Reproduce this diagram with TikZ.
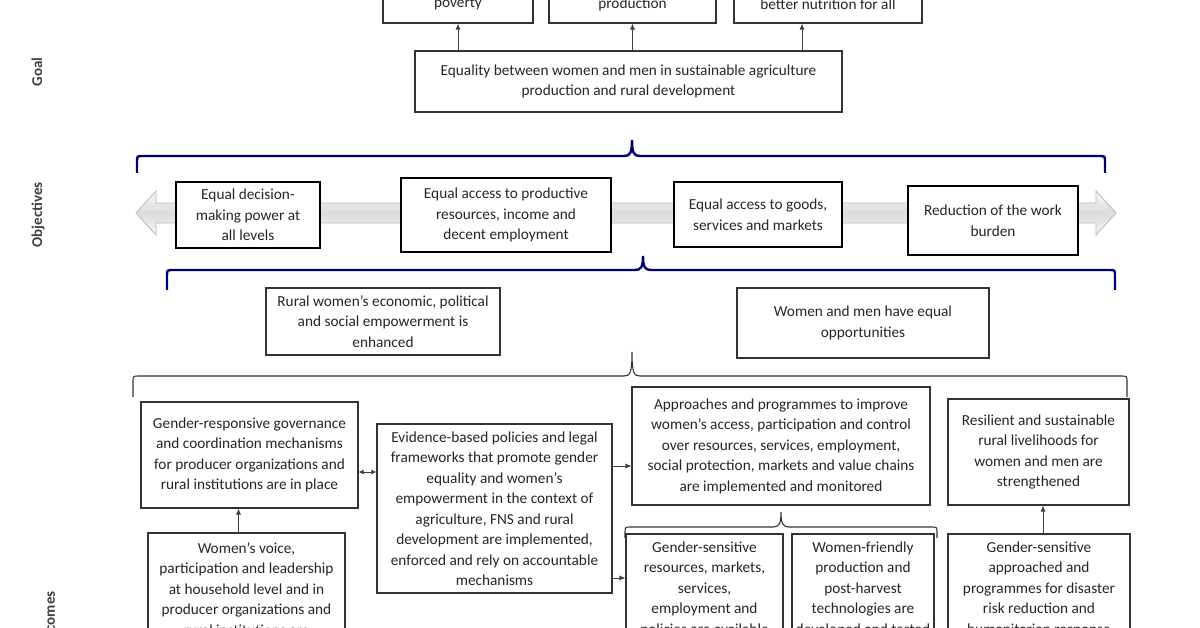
\documentclass[tikz,border=0pt]{standalone}
\usepackage{fontspec}
\setmainfont{Carlito}
\usetikzlibrary{arrows.meta}
\newcommand{\hbr}[7]{% #1 style, #2 x1, #3 x2, #4 xm, #5 yline, #6 yend, #7 ytip
\draw[#1] (#2,#6) -- (#2,{#5+6}) .. controls (#2,#5) .. ({#2+6},#5) -- ({#4-8},#5) .. controls ({#4-2},#5) and (#4,{#5-3}) .. (#4,#7) .. controls (#4,{#5-3}) and ({#4+2},#5) .. ({#4+8},#5) -- ({#3-6},#5) .. controls (#3,#5) .. (#3,{#5+6}) -- (#3,#6);}
\begin{document}
\begin{tikzpicture}[x=1pt,y=-1pt]
\tikzset{
 bx/.style={draw=black!80, line width=1.1pt, align=center, inner sep=2pt, text=black!85, font=\fontsize{15.3}{20.5}\selectfont},
 ob/.style={bx, draw=black, line width=2.8pt},
 arr/.style={draw=black!75, line width=0.8pt, -{Latex[length=6pt,width=5pt]}},
 arrb/.style={draw=black!75, line width=0.8pt, {Latex[length=5pt,width=5pt]}-{Latex[length=5pt,width=5pt]}},
 bluebrace/.style={draw=blue!45!black, line width=2.4pt},
 blkbrace/.style={draw=black!80, line width=1.1pt},
 lab/.style={rotate=90, font=\bfseries\fontsize{15}{17}\selectfont, text=black!75},
}
\useasboundingbox (0,0) rectangle (1200,628);
\clip (0,0) rectangle (1200,628);
\fill[white] (0,0) rectangle (1200,628);

% side labels
\node[lab] (lgoal) at (37,72) {Goal};
\node[lab] (lobj) at (38,215) {Objectives};
\node[lab] (lout) at (50,623) {Outcomes};

% top boxes (cut)
\node[bx, minimum width=150, minimum height=38] (t1) at (458,4) {poverty};
\node[bx, minimum width=167, minimum height=38] (t2) at (632.5,4) {production};
\node[bx, minimum width=188, minimum height=38] (t3) at (828,4) {better nutrition for all};

% goal
\node[bx, minimum width=427, minimum height=61] (g) at (628.5,81.5) {Equality between women and men in sustainable agriculture\\production and rural development};
\draw[arr] (g.north -| t1.south) -- (t1.south);
\draw[arr] (g.north -| t2.south) -- (t2.south);
\draw[arr] ([xshift=-26pt]g.north -| t3.south) -- ([xshift=-26pt]t3.south);

% blue brace 1
\hbr{bluebrace}{137}{1105}{632}{156}{173}{140}

% grey double arrow
\draw[draw=black!28, line width=0.8pt, top color=gray!6, bottom color=gray!6, middle color=gray!28] (136,213) -- (156,191) -- (156,203) -- (1096,203) -- (1096,191) -- (1116,213) -- (1096,235) -- (1096,223) -- (156,223) -- (156,235) -- cycle;

% objectives
\node[ob, fill=white, minimum width=144, minimum height=66] (b1) at (248,215) {Equal decision-\\making power at\\all levels};
\node[ob, fill=white, minimum width=210, minimum height=74] (b2) at (506,215) {Equal access to productive\\resources, income and\\decent employment};
\node[ob, fill=white, minimum width=168, minimum height=65] (b3) at (758,214.5) {Equal access to goods,\\services and markets};
\node[ob, fill=white, minimum width=170, minimum height=69] (b4) at (993,220.5) {Reduction of the work\\burden};

% blue brace 2
\hbr{bluebrace}{167}{1115}{643}{270}{290}{256}

% mid boxes
\node[bx, minimum width=234, minimum height=67] (m1) at (383,321.5) {Rural women's economic, political\\and social empowerment is\\enhanced};
\node[bx, minimum width=252, minimum height=70] (m2) at (863,323) {Women and men have equal\\opportunities};

% black brace 3
\hbr{blkbrace}{133}{1127}{632}{376}{397}{352}

% outcomes
\node[bx, minimum width=217, minimum height=106] (o1) at (249.5,455) {Gender-responsive governance\\and coordination mechanisms\\for producer organizations and\\rural institutions are in place};
\node[bx, minimum width=235, minimum height=169] (o2) at (494.5,508.5) {Evidence-based policies and legal\\frameworks that promote gender\\equality and women’s\\empowerment in the context of\\agriculture, FNS and rural\\development are implemented,\\enforced and rely on accountable\\mechanisms};
\node[bx, minimum width=298, minimum height=118] (o3) at (781,446) {Approaches and programmes to improve\\women’s access, participation and control\\over resources, services, employment,\\social protection, markets and value chains\\are implemented and monitored};
\node[bx, minimum width=181, minimum height=106] (o4) at (1038.5,452) {Resilient and sustainable\\rural livelihoods for\\women and men are\\strengthened};

\node[bx, minimum width=197, minimum height=112] (o5) at (246.5,589) {Women’s voice,\\participation and leadership\\at household level and in\\producer organizations and\\rural institutions are};
\node[bx, minimum width=157, minimum height=110] (o6) at (704.5,589) {Gender-sensitive\\resources, markets,\\services,\\employment and\\policies are available};
\node[bx, minimum width=142, minimum height=110] (o7) at (863,589) {Women-friendly\\production and\\post-harvest\\technologies are\\developed and tested};
\node[bx, minimum width=182, minimum height=110] (o8) at (1039,589) {Gender-sensitive\\approached and\\programmes for disaster\\risk reduction and\\humanitarian response};

% small brace over o6/o7
\hbr{blkbrace}{625}{937}{781}{527}{538}{512}

% connectors
\draw[arr] ([xshift=-8pt]o5.north) -- ([xshift=-8pt]o5.north |- o1.south);
\draw[arr] ([xshift=4pt]o8.north) -- ([xshift=4pt]o8.north |- o4.south);
\draw[arrb] ([yshift=-17pt]o1.east) -- ([yshift=-17pt]o1.east -| o2.west);
\draw[arr] ([yshift=-20pt]o3.west -| o2.east) -- ([yshift=-20pt]o3.west);
\draw[arr] ([yshift=11pt]o6.west -| o2.east) -- ([yshift=11pt]o6.west);
\end{tikzpicture}
\end{document}
